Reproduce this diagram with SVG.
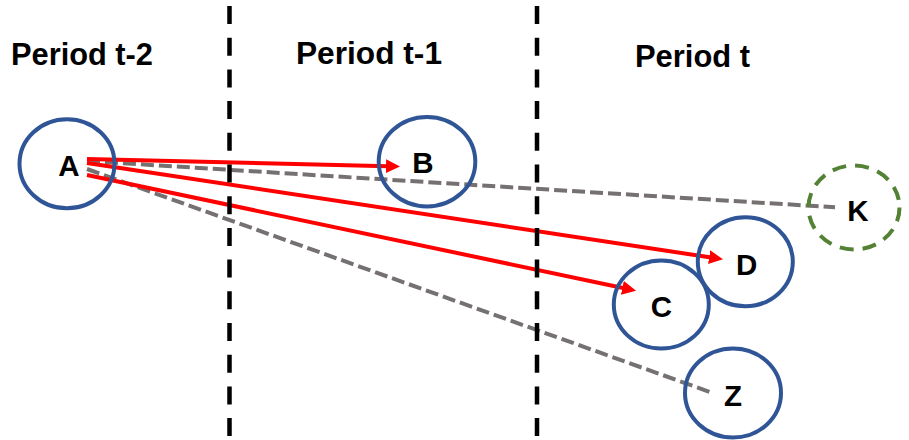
<svg xmlns="http://www.w3.org/2000/svg" width="909" height="440" viewBox="0 0 909 440">
<defs>
<style>
.title{font-family:"Liberation Sans",Arial,sans-serif;font-weight:bold;font-size:31px;fill:#000}
.lbl{font-family:"Liberation Sans",Arial,sans-serif;font-weight:bold;font-size:29.5px;fill:#000;text-anchor:middle}
.node{fill:none;stroke:#2F5597;stroke-width:4}
.nodek{fill:none;stroke:#548235;stroke-width:4;stroke-dasharray:14 9}
.sep{stroke:#000;stroke-width:4.5;stroke-dasharray:18 13.7;fill:none}
.red{stroke:#FF0000;stroke-width:4;fill:none;marker-end:url(#ah)}
.gray{stroke:#767171;stroke-width:4;fill:none;stroke-dasharray:13 5}
</style>
<marker id="ah" markerUnits="userSpaceOnUse" markerWidth="16" markerHeight="16" refX="2" refY="7" orient="auto">
<path d="M0,0 L14,7 L0,14 z" fill="#FF0000"/>
</marker>
</defs>
<rect width="909" height="440" fill="#fff"/>
<g id="titles">
<text class="title" x="11" y="65" textLength="142" lengthAdjust="spacingAndGlyphs">Period t-2</text>
<text class="title" x="296" y="64" textLength="146" lengthAdjust="spacingAndGlyphs">Period t-1</text>
<text class="title" x="635" y="67" textLength="115" lengthAdjust="spacingAndGlyphs">Period t</text>
</g>
<g id="connectors">
<line class="gray" x1="87" y1="161" x2="835" y2="207.3"/>
<line class="gray" x1="87" y1="169" x2="710" y2="392"/>
<line class="red" x1="87" y1="159" x2="388" y2="166.2"/>
<line class="red" x1="87" y1="163" x2="711.1" y2="257.5"/>
<line class="red" x1="87" y1="175" x2="624.3" y2="288.2"/>
</g>
<g id="separators">
<line class="sep" x1="229.5" y1="6" x2="229.5" y2="440"/>
<line class="sep" x1="537" y1="6" x2="537" y2="440"/>
</g>
<g id="node-A"><ellipse class="node" cx="67" cy="163.7" rx="47.5" ry="44.5"/><text class="lbl" x="69" y="175.5">A</text></g>
<g id="node-B"><ellipse class="node" cx="427" cy="161.7" rx="48.3" ry="44.7"/><text class="lbl" x="423" y="173">B</text></g>
<g id="node-C"><ellipse class="node" cx="661.3" cy="304.5" rx="47.5" ry="44"/><text class="lbl" x="661.5" y="317">C</text></g>
<g id="node-D"><ellipse class="node" cx="745.3" cy="261.7" rx="47.5" ry="44.5"/><text class="lbl" x="746.7" y="274.5">D</text></g>
<g id="node-Z"><ellipse class="node" cx="733" cy="393" rx="48" ry="44.5"/><text class="lbl" x="733" y="405.5">Z</text></g>
<g id="node-K"><ellipse class="nodek" cx="854" cy="207.5" rx="45.5" ry="42"/><text class="lbl" x="858" y="221">K</text></g>
</svg>
